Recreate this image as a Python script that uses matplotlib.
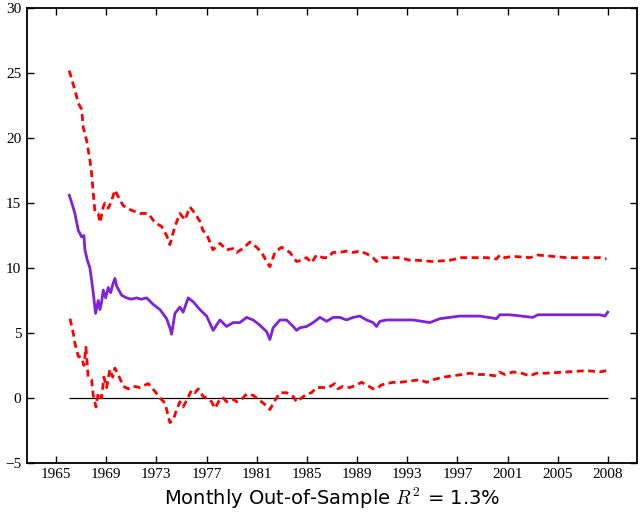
import numpy as np
import matplotlib.pyplot as plt

plt.rcParams["mathtext.fontset"] = "cm"

# axis positions (years) at which each series was read
mid_years = [1966.06, 1966.3, 1966.51, 1966.78, 1967.05, 1967.23, 1967.31, 1967.5, 1967.71,
             1967.85, 1967.97, 1968.16, 1968.37, 1968.51, 1968.64, 1968.77, 1968.96, 1969.17,
             1969.36, 1969.55, 1969.70, 1969.84, 1970.24, 1970.63, 1971.0, 1971.43, 1971.8,
             1972.23, 1972.75, 1973.29, 1973.82, 1974.08, 1974.22, 1974.48, 1974.88, 1975.14,
             1975.54, 1975.94, 1976.47, 1977.01, 1977.53, 1978.07, 1978.6, 1979.13, 1979.66,
             1980.2, 1980.72, 1981.25, 1981.79, 1982.05, 1982.31, 1982.85, 1983.38, 1983.91,
             1984.18, 1984.44, 1984.98, 1985.5, 1986.04, 1986.57, 1987.1, 1987.63, 1988.16,
             1988.69, 1989.22, 1989.76, 1990.28, 1990.55, 1990.82, 1991.35, 1992.41, 1993.47,
             1994.8, 1995.6, 1997.19, 1998.78, 2000.11, 2000.38, 2001.18, 2003.01, 2003.41,
             2005.69, 2008.35, 2008.75, 2008.98]
mid_vals = [15.6, 14.9, 14.2, 12.9, 12.4, 12.5, 11.4, 10.6, 10.0,
            9.0, 8.1, 6.5, 7.5, 6.8, 7.4, 8.3, 7.7, 8.5,
            8.1, 8.8, 9.2, 8.6, 7.9, 7.7, 7.6, 7.7, 7.6,
            7.7, 7.2, 6.8, 6.1, 5.4, 4.9, 6.5, 7.0, 6.6,
            7.7, 7.4, 6.8, 6.3, 5.2, 6.0, 5.5, 5.8, 5.8,
            6.2, 6.0, 5.6, 5.1, 4.5, 5.4, 6.0, 6.0, 5.5,
            5.2, 5.4, 5.5, 5.8, 6.2, 5.9, 6.2, 6.2, 6.0,
            6.2, 6.3, 6.0, 5.8, 5.5, 5.9, 6.0, 6.0, 6.0,
            5.8, 6.1, 6.3, 6.3, 6.1, 6.4, 6.4, 6.2, 6.4,
            6.4, 6.4, 6.3, 6.6]

upper_years = [1966.06, 1966.51, 1966.78, 1967.05, 1967.18, 1967.45, 1967.71, 1967.84, 1967.97,
               1968.11, 1968.37, 1968.51, 1968.77, 1968.9, 1969.17, 1969.44, 1969.7, 1969.96,
               1970.36, 1970.9, 1971.69, 1972.35, 1972.89, 1973.42, 1973.82, 1974.08, 1974.48,
               1974.88, 1975.28, 1975.68, 1976.08, 1976.47, 1976.71, 1977.01, 1977.27, 1977.51,
               1978.07, 1978.6, 1979.1, 1979.4, 1979.9, 1980.46, 1980.99, 1981.39, 1981.79,
               1982.05, 1982.45, 1982.98, 1983.65, 1984.18, 1984.58, 1984.98, 1985.37, 1985.77,
               1986.27, 1986.67, 1987.07, 1987.63, 1988.16, 1988.67, 1989.22, 1989.76, 1990.26,
               1990.55, 1990.95, 1991.61, 1992.41, 1993.21, 1993.74, 1995.04, 1996.39, 1997.33,
               1997.99, 1999.32, 2000.11, 2000.38, 2000.78, 2001.41, 2002.77, 2003.41, 2005.69,
               2007.29, 2008.35, 2008.88]
upper_vals = [25.2, 23.7, 22.7, 22.2, 20.8, 19.8, 18.3, 17.3, 15.8,
              14.3, 14.2, 13.5, 14.7, 15.0, 14.6, 15.2, 16.0, 15.5,
              14.8, 14.5, 14.2, 14.2, 13.5, 13.2, 12.5, 11.8, 13.2,
              14.2, 13.7, 14.7, 14.2, 13.6, 12.9, 12.6, 12.0, 11.4,
              11.9, 11.4, 11.5, 11.2, 11.5, 12.0, 11.6, 11.2, 10.5,
              10.1, 11.2, 11.6, 11.2, 10.5, 10.6, 10.8, 10.4, 11.0,
              10.8, 10.8, 11.2, 11.2, 11.3, 11.2, 11.3, 11.1, 10.8,
              10.5, 10.8, 10.8, 10.8, 10.6, 10.6, 10.5, 10.6, 10.8,
              10.8, 10.8, 10.7, 11.0, 10.8, 10.9, 10.8, 11.0, 10.8,
              10.8, 10.8, 10.7]

lower_years = [1966.12, 1966.38, 1966.51, 1966.78, 1967.05, 1967.23, 1967.39, 1967.57, 1967.84,
               1967.97, 1968.19, 1968.37, 1968.64, 1968.82, 1969.04, 1969.3, 1969.52, 1969.7,
               1970.1, 1970.36, 1970.76, 1971.16, 1971.69, 1972.35, 1972.89, 1973.29, 1973.69,
               1973.82, 1974.08, 1974.35, 1974.62, 1974.88, 1975.14, 1975.41, 1975.81, 1976.08,
               1976.34, 1976.74, 1977.01, 1977.41, 1977.67, 1978.07, 1978.33, 1978.6, 1979.13,
               1979.4, 1979.8, 1980.2, 1980.72, 1981.25, 1981.65, 1982.05, 1982.45, 1982.85,
               1983.38, 1983.91, 1984.18, 1984.58, 1984.98, 1985.37, 1985.77, 1986.3, 1986.7,
               1987.23, 1987.49, 1987.89, 1988.43, 1988.96, 1989.36, 1989.76, 1990.28, 1990.55,
               1990.95, 1991.35, 1991.88, 1992.41, 1993.21, 1994.0, 1994.54, 1995.06, 1995.86,
               1996.66, 1997.33, 1997.99, 1998.65, 1999.32, 1999.98, 2000.32, 2000.78, 2001.44,
               2002.11, 2002.77, 2003.3, 2004.1, 2005.69, 2007.29, 2008.35, 2008.88]
lower_vals = [6.1, 5.0, 4.2, 3.2, 3.1, 2.5, 3.9, 1.6, 1.4,
              0.2, -0.7, 0.4, 0.0, 1.6, 0.8, 2.2, 1.6, 2.3,
              1.5, 0.9, 0.7, 0.9, 0.8, 1.1, 0.5, 0.0, -0.4,
              -0.9, -1.9, -1.7, -0.9, -0.3, -0.7, -0.2, 0.6, 0.4,
              0.7, 0.1, 0.0, -0.3, -0.8, -0.1, 0.0, -0.3, -0.1,
              -0.3, -0.1, 0.3, 0.2, -0.2, -0.5, -0.9, -0.2, 0.4,
              0.4, 0.1, -0.3, 0.0, 0.3, 0.4, 0.8, 0.8, 0.8,
              1.1, 0.7, 0.9, 0.8, 1.0, 1.2, 1.0, 0.7, 0.7,
              1.0, 1.1, 1.2, 1.2, 1.3, 1.4, 1.2, 1.4, 1.6,
              1.7, 1.8, 1.9, 1.8, 1.8, 1.7, 2.0, 1.8, 2.0,
              1.9, 1.7, 1.9, 1.9, 2.0, 2.1, 2.0, 2.1]

tick_pos = np.arange(1965, 2010, 4)
tick_labels = ["1965", "1969", "1973", "1977", "1981", "1985",
               "1989", "1993", "1997", "2001", "2005", "2008"]

fig = plt.figure(figsize=(6.42, 5.16), dpi=100)
ax = fig.add_axes([0.042, 0.103, 0.95, 0.881])

ax.hlines(0, mid_years[0], mid_years[-1], color="black", linewidth=0.9)
ax.plot(upper_years, upper_vals, color="red", linewidth=2.0, dashes=(2.5, 1.6))
ax.plot(lower_years, lower_vals, color="red", linewidth=2.0, dashes=(2.5, 1.6))
ax.plot(mid_years, mid_vals, color="#7f22d8", linewidth=2.0)

ax.set_xlim(1962.69, 2011.3)
ax.set_ylim(-5, 30)
ax.set_xticks(tick_pos)
ax.set_xticklabels(tick_labels)
ax.set_yticks(np.arange(-5, 31, 5))
ax.set_yticklabels(["\u22125", "0", "5", "10", "15", "20", "25", "30"])
ax.tick_params(direction="in", top=True, right=True, length=5, width=1,
               labelsize=11, pad=4)
for lab in ax.get_xticklabels() + ax.get_yticklabels():
    lab.set_fontfamily("Liberation Serif")
for sp in ax.spines.values():
    sp.set_linewidth(1.3)

ax.set_xlabel(r"Monthly Out-of-Sample $R^2$ = 1.3%", fontsize=14, labelpad=3)

fig.savefig("out.png", dpi=100)
